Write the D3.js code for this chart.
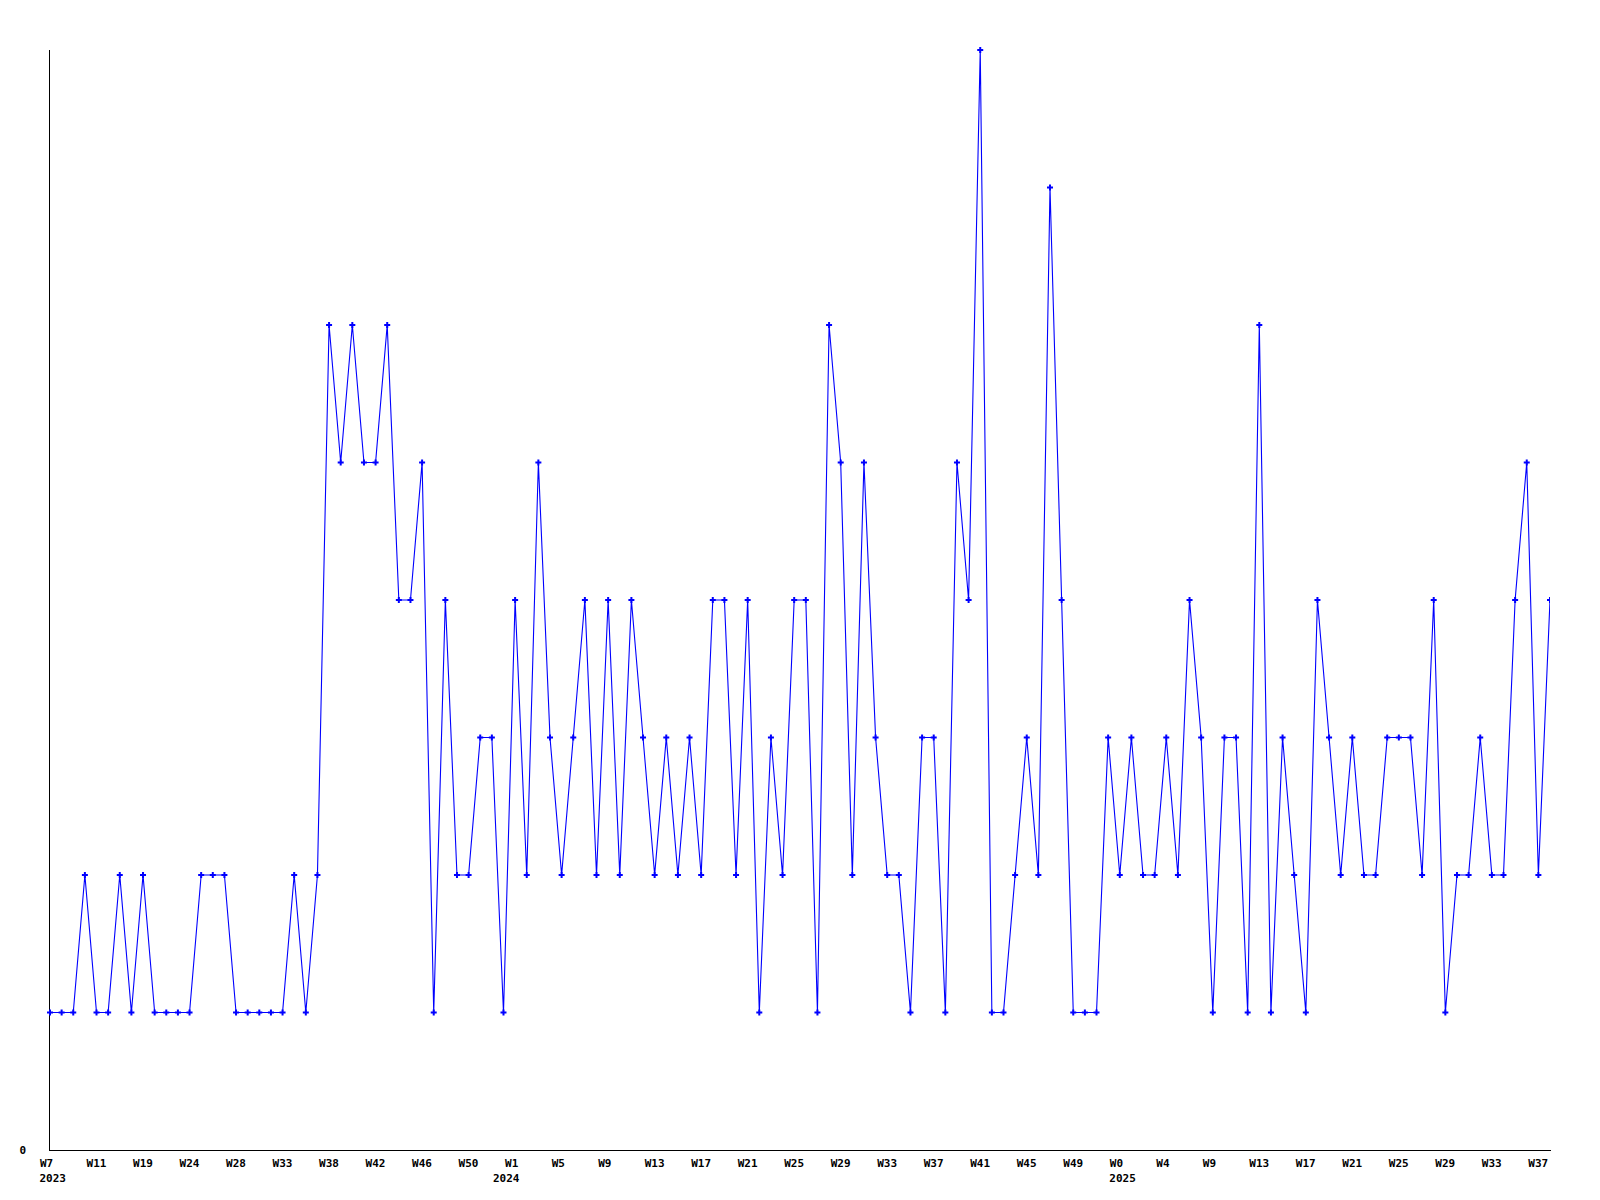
<!DOCTYPE html>
<html>
<head>
<meta charset="utf-8">
<script src="https://cdn.jsdelivr.net/npm/d3@7"></script>
<style>
  body { margin: 0; background: #fff; }
  svg text { font-family: "DejaVu Sans Mono", monospace; font-weight: bold; font-size: 11px; fill: #000; }
</style>
</head>
<body>
<div id="chart"></div>
<script>
// weekly counts, one value per point
var values = [
  1, 1, 1, 2, 1, 1, 2, 1, 2, 1,
  1, 1, 1, 2, 2, 2, 1, 1, 1, 1,
  1, 2, 1, 2, 6, 5, 6, 5, 5, 6,
  4, 4, 5, 1, 4, 2, 2, 3, 3, 1,
  4, 2, 5, 3, 2, 3, 4, 2, 4, 2,
  4, 3, 2, 3, 2, 3, 2, 4, 4, 2,
  4, 1, 3, 2, 4, 4, 1, 6, 5, 2,
  5, 3, 2, 2, 1, 3, 3, 1, 5, 4,
  8, 1, 1, 2, 3, 2, 7, 4, 1, 1,
  1, 3, 2, 3, 2, 2, 3, 2, 4, 3,
  1, 3, 3, 1, 6, 1, 3, 2, 1, 4,
  3, 2, 3, 2, 2, 3, 3, 3, 2, 4,
  1, 2, 2, 3, 2, 2, 4, 5, 2, 4
];

// labels shown on every 4th point
var tickWeeks = ["W7", "W11", "W19", "W24", "W28", "W33", "W38", "W42", "W46", "W50",
                 "W1", "W5", "W9", "W13", "W17", "W21", "W25", "W29", "W33", "W37",
                 "W41", "W45", "W49", "W0", "W4", "W9", "W13", "W17", "W21", "W25",
                 "W29", "W33", "W37"];
var yearLabels = ["2023", "2024", "2025"];
var yearIndex = [0, 39, 92];
var yTicks = [0];

var width = 1600, height = 1200;
var margin = {top: 50, right: 50, bottom: 50, left: 50};

var svg = d3.select("#chart").append("svg")
    .attr("width", width)
    .attr("height", height);

var x = d3.scaleLinear()
    .domain([0, values.length - 1])
    .range([margin.left, width - margin.right]);

var y = d3.scaleLinear()
    .domain([0, d3.max(values)])
    .range([height - margin.bottom, margin.top]);

svg.append("defs").append("clipPath")
    .attr("id", "plot")
  .append("rect")
    .attr("x", margin.left - 5)
    .attr("y", margin.top - 5)
    .attr("width", width - margin.right - margin.left + 5)
    .attr("height", height - margin.bottom - margin.top + 10);

// X axis
var tickIdx = tickWeeks.map(function(d, i) { return i * 4; });
var xAxis = svg.append("g")
    .attr("transform", "translate(0," + (height - margin.bottom) + ")")
    .call(d3.axisBottom(x)
      .tickValues(tickIdx)
      .tickSize(0)
      .tickFormat(function(d) { return tickWeeks[d / 4]; }));
xAxis.select(".domain")
    .attr("d", "M" + (margin.left) + ",0.5H" + (width - margin.right + 1))
    .attr("stroke", "#000");
xAxis.selectAll(".tick text")
    .attr("text-anchor", "start")
    .attr("x", -10.5)
    .attr("y", 9)
    .attr("dy", "0.71em");

// year labels under the week labels
svg.append("g").selectAll("text")
    .data(yearLabels)
    .join("text")
      .attr("x", function(d, i) { return x(yearIndex[i]) - 10.5; })
      .attr("y", height - margin.bottom + 24)
      .attr("dy", "0.71em")
      .text(function(d) { return d; });

// Y axis
var yAxis = svg.append("g")
    .attr("transform", "translate(" + margin.left + ",0)")
    .call(d3.axisLeft(y).tickValues(yTicks).tickSize(0));
yAxis.select(".domain")
    .attr("d", "M-0.5," + margin.top + "V" + (height - margin.bottom + 1))
    .attr("stroke", "#000");
yAxis.selectAll(".tick text")
    .attr("x", -24)
    .attr("dy", "0.32em");

var g = svg.append("g").attr("clip-path", "url(#plot)");

// the line
g.append("path")
    .datum(values)
    .attr("fill", "none")
    .attr("stroke", "#0000ff")
    .attr("stroke-width", 1.1)
    .attr("d", d3.line()
      .x(function(d, i) { return x(i); })
      .y(function(d) { return y(d); }));

// markers
g.selectAll(".pt")
    .data(values)
    .join("path")
      .attr("class", "pt")
      .attr("transform", function(d, i) { return "translate(" + x(i) + "," + y(d) + ")"; })
      .attr("d", d3.symbol().type(d3.symbolCross).size(20))
      .attr("fill", "#0000ff");
</script>
</body>
</html>
